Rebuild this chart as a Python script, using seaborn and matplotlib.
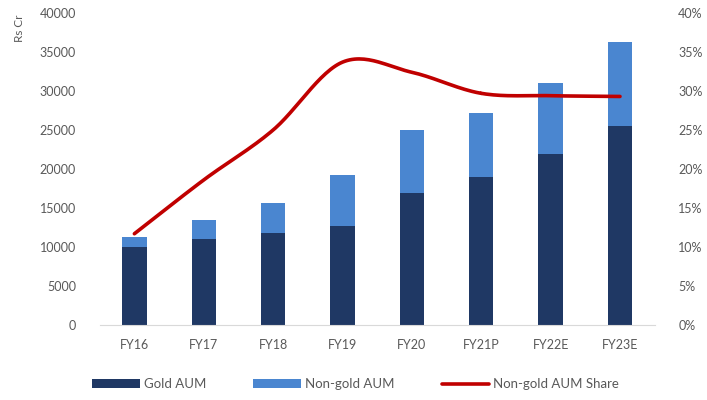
import numpy as np
import pandas as pd
import matplotlib
matplotlib.use("Agg")
import matplotlib.pyplot as plt
import seaborn as sns
from matplotlib.ticker import FuncFormatter, MultipleLocator
from matplotlib.patches import Patch
from matplotlib.lines import Line2D

years = ["FY16", "FY17", "FY18", "FY19", "FY20", "FY21P", "FY22E", "FY23E"]
gold_aum = [10000, 11000, 11800, 12700, 16900, 19000, 21900, 25500]
nongold_aum = [1300, 2500, 3800, 6500, 8100, 8200, 9100, 10800]
nongold_share = [11.7, 18.6, 25.0, 33.7, 32.4, 29.7, 29.4, 29.3]

sns.set_theme(style="white")
plt.rcParams["font.family"] = ["Lato", "DejaVu Sans"]

TEXT = "#595959"
DARK = "#1F3864"
LIGHT = "#4A86D0"
RED = "#C00000"

df = pd.DataFrame({"year": years, "gold": gold_aum, "nongold": nongold_aum})
df["total"] = df["gold"] + df["nongold"]

fig = plt.figure(figsize=(7.07, 4.0), dpi=100)
ax = fig.add_axes([0.141, 0.1875, 0.785, 0.78])

# stacked bars: total drawn first, gold on top of it
sns.barplot(data=df, x="year", y="total", color=LIGHT, width=0.35,
            saturation=1, edgecolor="none", linewidth=0, ax=ax)
sns.barplot(data=df, x="year", y="gold", color=DARK, width=0.35,
            saturation=1, edgecolor="none", linewidth=0, ax=ax)

ax.set_ylim(0, 40000)
ax.set_xlim(-0.5, len(years) - 0.5)
ax.yaxis.set_major_locator(MultipleLocator(5000))
ax.set_xlabel("")
ax.set_ylabel("")
for s in ["top", "right", "left"]:
    ax.spines[s].set_visible(False)
ax.spines["bottom"].set_color("#D9D9D9")
ax.spines["bottom"].set_linewidth(0.8)
ax.tick_params(axis="both", length=0, labelsize=9, labelcolor=TEXT)
ax.tick_params(axis="y", pad=17)
ax.tick_params(axis="x", pad=10)

# secondary axis for the non-gold share, drawn as a smoothed curve
ax2 = ax.twinx()
x = np.arange(len(years), dtype=float)
y = np.array(nongold_share, dtype=float)
pts_x, pts_y = [], []
px = np.concatenate([[2 * x[0] - x[1]], x, [2 * x[-1] - x[-2]]])
py = np.concatenate([[2 * y[0] - y[1]], y, [2 * y[-1] - y[-2]]])
t = np.linspace(0, 1, 30)


def catmull_rom(a0, a1, a2, a3):
    return 0.5 * ((2 * a1) + (-a0 + a2) * t
                  + (2 * a0 - 5 * a1 + 4 * a2 - a3) * t ** 2
                  + (-a0 + 3 * a1 - 3 * a2 + a3) * t ** 3)


for i in range(1, len(px) - 2):
    pts_x.append(catmull_rom(*px[i - 1:i + 3]))
    pts_y.append(catmull_rom(*py[i - 1:i + 3]))
sx = np.concatenate(pts_x)
sy = np.concatenate(pts_y)
ax2.plot(sx, sy, color=RED, linewidth=2.6, solid_capstyle="round")
ax2.set_ylim(0, 40)
ax2.yaxis.set_major_locator(MultipleLocator(5))
ax2.yaxis.set_major_formatter(FuncFormatter(lambda v, p: f"{v:.0f}%"))
for s in ax2.spines.values():
    s.set_visible(False)
ax2.tick_params(axis="y", length=0, labelsize=9, labelcolor=TEXT, pad=17)
ax2.grid(False)
ax.grid(False)

fig.text(0.028, 0.93, "Rs Cr", rotation=90, fontsize=8.5, color=TEXT,
         ha="center", va="center")

handles = [
    Patch(facecolor=DARK, edgecolor="none", label="Gold AUM"),
    Patch(facecolor=LIGHT, edgecolor="none", label="Non-gold AUM"),
    Line2D([0], [0], color=RED, linewidth=2.6, label="Non-gold AUM Share"),
]
fig.legend(handles=handles, loc="center", bbox_to_anchor=(0.503, 0.04),
           ncol=3, frameon=False, fontsize=9.5, labelcolor=TEXT,
           handlelength=3.6, handleheight=0.6, handletextpad=0.3,
           columnspacing=3.6)

fig.savefig("out.png", dpi=100)
